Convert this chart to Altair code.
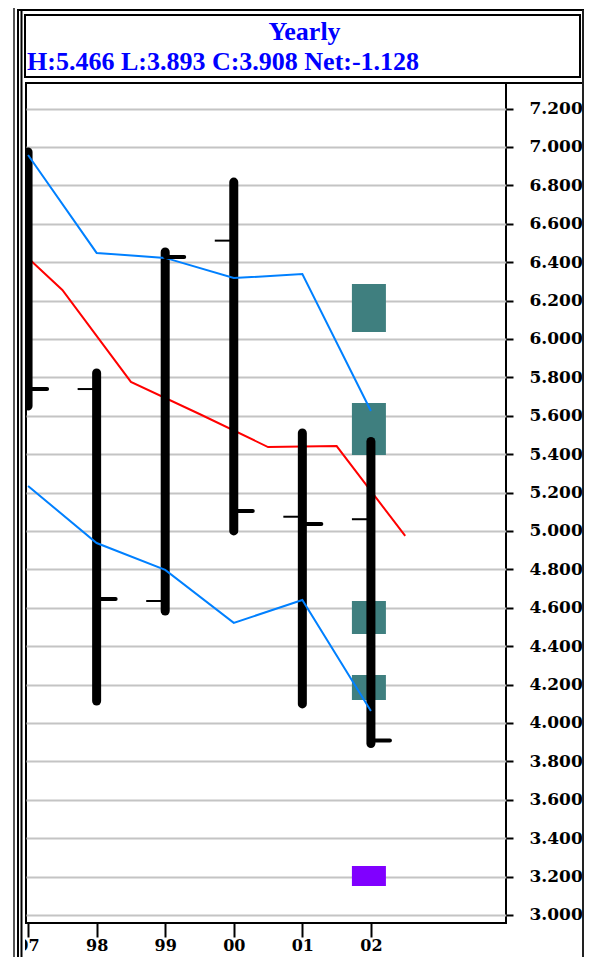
import altair as alt
import pandas as pd

# ---- data ----
years = [1997, 1998, 1999, 2000, 2001, 2002]
opens = [None, 5.739, 4.635, 6.512, 5.074, 5.061]
highs = [6.974, 5.823, 6.453, 6.817, 5.510, 5.466]
lows = [5.651, 4.114, 4.583, 5.000, 4.099, 3.893]
closes = [5.739, 4.646, 6.427, 5.104, 5.036, 3.908]

upper_band = [6.958, 6.448, 6.422, 6.317, 6.338, 5.625]
lower_band = [5.234, 4.937, 4.797, 4.521, 4.640, 4.062]

ma_years = [1996.5, 1997.5, 1998.5, 1999.5, 2000.5, 2001.5, 2002.5]
ma_values = [6.588, 6.255, 5.776, 5.609, 5.437, 5.442, 4.974]

level_year = 2002
level_top = [6.286, 5.666, 4.635, 4.250]
level_bottom = [6.036, 5.396, 4.463, 4.120]
target_top = [3.255]
target_bottom = [3.151]

y_ticks = [3.0, 3.2, 3.4, 3.6, 3.8, 4.0, 4.2, 4.4, 4.6, 4.8, 5.0,
           5.2, 5.4, 5.6, 5.8, 6.0, 6.2, 6.4, 6.6, 6.8, 7.0, 7.2]
period = "Yearly"

# ---- tables ----
ohlc = pd.DataFrame({"year": years, "open": opens, "high": highs,
                     "low": lows, "close": closes})
bands = pd.DataFrame({"year": years, "upper": upper_band, "lower": lower_band})
ma = pd.DataFrame({"year": ma_years, "ma": ma_values})
levels = pd.DataFrame({"year": [level_year] * len(level_top),
                       "top": level_top, "bottom": level_bottom})
target = pd.DataFrame({"year": [level_year], "top": target_top,
                       "bottom": target_bottom})
prev_close = closes[-2]
summary = "H:{:.3f} L:{:.3f} C:{:.3f} Net:{:.3f}".format(
    highs[-1], lows[-1], closes[-1], closes[-1] - prev_close)
titles = pd.DataFrame({"t": [period], "s": [summary]})
one = pd.DataFrame({"k": [0]})

# ---- scales & axes ----
xs = alt.Scale(domain=[1996.97, 2003.97], nice=False, zero=False, padding=0)
ys = alt.Scale(domain=[2.958, 7.333], nice=False, zero=False, padding=0)
LABEL_FONT = "DejaVu Serif"
xax = alt.Axis(values=years, labelExpr="substring(toString(datum.value), 2)",
               tickSize=14, tickWidth=2, tickColor="black", domain=False,
               grid=False, labelFont=LABEL_FONT, labelFontWeight="bold",
               labelFontSize=16, labelColor="black", labelPadding=13,
               labelBaseline="alphabetic",
               title=None, labelFlush=False, labelOverlap=False, zindex=0)
yax = alt.Axis(orient="right", values=y_ticks, format=".3f", tickSize=7,
               tickWidth=2, tickColor="black", domain=False, grid=True,
               gridColor="#c4c4c4", gridWidth=2, labelFont=LABEL_FONT,
               labelFontWeight="bold", labelFontSize=17, labelColor="black",
               labelPadding=16, title=None, labelFlush=False,
               labelOverlap=False, zindex=0)


def X(f):
    return alt.X(f, type="quantitative", scale=xs, axis=xax)


def Y(f):
    return alt.Y(f, type="quantitative", scale=ys, axis=yax)


# ---- data layers ----
lev = alt.Chart(levels).mark_bar(color="#3f7f7f", width=34, xOffset=-2).encode(
    x=X("year"), y=Y("top"), y2="bottom")
tgt = alt.Chart(target).mark_bar(color="#8000ff", width=34, xOffset=-2).encode(
    x=X("year"), y=Y("top"), y2="bottom")
red = alt.Chart(ma).mark_line(color="#ff0000", strokeWidth=2, clip=True).encode(
    x=X("year"), y=Y("ma"))
bars = alt.Chart(ohlc).mark_rule(color="black", strokeWidth=9,
                                 strokeCap="round", clip=True).encode(
    x=X("year"), y=Y("low"), y2="high")
up = alt.Chart(bands).mark_line(color="#0080ff", strokeWidth=2, clip=True).encode(
    x=X("year"), y=Y("upper"))
lo = alt.Chart(bands).mark_line(color="#0080ff", strokeWidth=2, clip=True).encode(
    x=X("year"), y=Y("lower"))
open_t = alt.Chart(ohlc).mark_rule(color="black", strokeWidth=2,
                                   x2Offset=-19, clip=True).encode(
    x=X("year"), x2="year", y=Y("open"))
close_t = alt.Chart(ohlc).mark_rule(color="black", strokeWidth=4,
                                    strokeCap="round", x2Offset=19).encode(
    x=X("year"), x2="year", y=Y("close"))

# ---- frame decorations (pixel positions relative to plot origin) ----
BOTTOM = 874


def vrule(x, y1, y2, color="black", w=2):
    return alt.Chart(one).mark_rule(color=color, strokeWidth=w).encode(
        x=alt.value(x), y=alt.value(y1), y2=alt.value(y2))


def hrule(x1, x2, y, color="black", w=2):
    return alt.Chart(one).mark_rule(color=color, strokeWidth=w).encode(
        x=alt.value(x1), x2=alt.value(x2), y=alt.value(y))


mask = alt.Chart(one).mark_rect(fill="white", strokeWidth=0).encode(
    x=alt.value(-18), x2=alt.value(-1), y=alt.value(842), y2=alt.value(BOTTOM))

decor = [
    mask,
    vrule(-12, -75, BOTTOM, "#555555", 2),
    vrule(-8, -73, BOTTOM),
    vrule(-4.5, -73, BOTTOM),
    hrule(-9, 558, -73),
    hrule(480, 557, 0),
    vrule(557, -73, BOTTOM, "#222222", 2),
]

tbox = alt.Chart(one).mark_rect(fill="white", stroke="black", strokeWidth=2).encode(
    x=alt.value(-1), x2=alt.value(554), y=alt.value(-68), y2=alt.value(-6))
t1 = alt.Chart(titles).mark_text(align="center", baseline="alphabetic",
                                 font="Liberation Serif", fontWeight="bold",
                                 fontSize=26, color="#0000ff").encode(
    x=alt.value(278.5), y=alt.value(-43), text="t:N")
t2 = alt.Chart(titles).mark_text(align="left", baseline="alphabetic",
                                 font="Liberation Serif", fontWeight="bold",
                                 fontSize=26, color="#0000ff").encode(
    x=alt.value(1), y=alt.value(-13), text="s:N")

chart = alt.layer(
    lev, tgt, red, bars, up, lo, open_t, close_t, *decor, tbox, t1, t2
).properties(
    width=480, height=840,
    autosize=alt.AutoSizeParams(type="none"),
    padding={"left": 18, "top": 75, "right": 78, "bottom": 34},
    background="white",
).configure_view(stroke="black", strokeWidth=2)

chart.save("out.html", embed_options={"renderer": "svg", "actions": False})
